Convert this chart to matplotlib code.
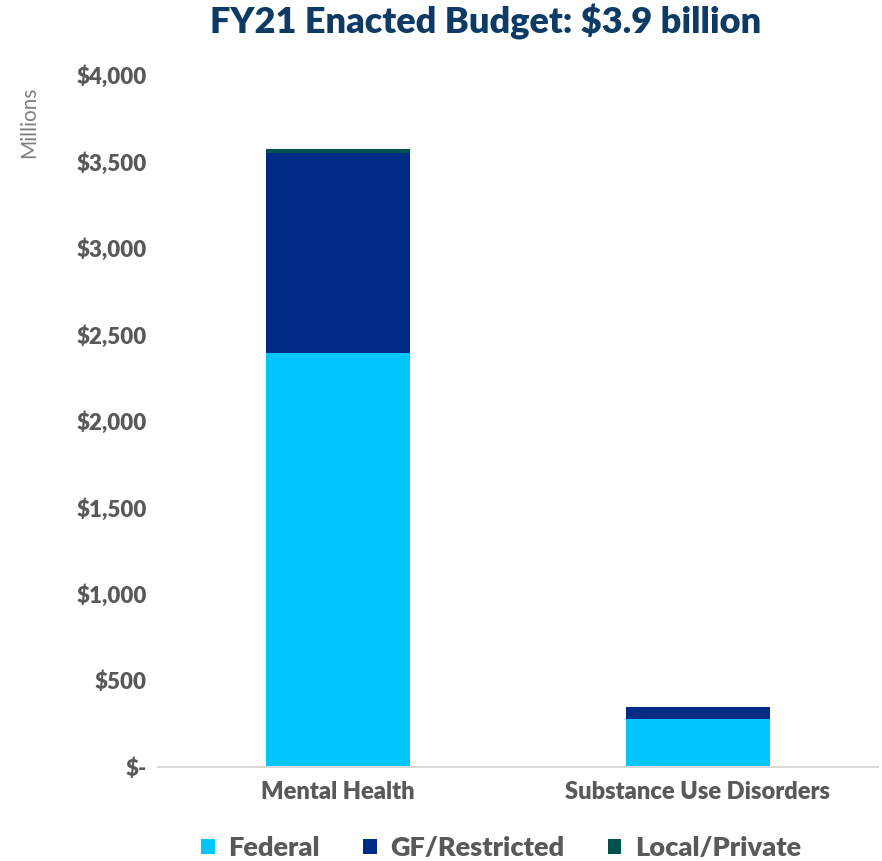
import matplotlib
matplotlib.use("Agg")
import matplotlib.pyplot as plt
from matplotlib.ticker import FixedLocator

categories = ["Mental Health", "Substance Use Disorders"]
federal = [2393, 279]
gf_restricted = [1156, 68]
local_private = [23, 0]
series_names = ["Federal", "GF/Restricted", "Local/Private"]
ytick_values = [0, 500, 1000, 1500, 2000, 2500, 3000, 3500, 4000]
ytick_labels = ["$-", "$500", "$1,000", "$1,500", "$2,000", "$2,500", "$3,000", "$3,500", "$4,000"]

colors = ["#00C5FF", "#002B84", "#00524F"]
plt.rcParams['font.family'] = ['Lato', 'DejaVu Sans']
W = 'heavy'

fig = plt.figure(figsize=(8.82, 8.61), dpi=100)
ax = fig.add_axes([0.179, 0.1092, 0.816, 0.8037])

x = [0, 1]
w = 0.4
b1 = ax.bar(x, federal, width=w, color=colors[0], label=series_names[0])
bottom2 = federal
b2 = ax.bar(x, gf_restricted, width=w, bottom=bottom2, color=colors[1], label=series_names[1])
bottom3 = [a + b for a, b in zip(federal, gf_restricted)]
b3 = ax.bar(x, local_private, width=w, bottom=bottom3, color=colors[2], label=series_names[2])

ax.set_xlim(-0.5, 1.5)
ax.set_ylim(0, 4000)
ax.yaxis.set_major_locator(FixedLocator(ytick_values))
ax.set_yticklabels(ytick_labels, fontsize=16, fontweight=W, color='#595959')
ax.set_xticks(x)
ax.set_xticklabels(categories, fontsize=17, fontweight=W, color='#595959')
ax.tick_params(axis='both', length=0, pad=8)
ax.tick_params(axis='x', pad=10)
for s in ["top", "right", "left"]:
    ax.spines[s].set_visible(False)
ax.spines["bottom"].set_color("#D9D9D9")
ax.spines["bottom"].set_linewidth(1.5)

fig.text(0.033, 0.858, "Millions", rotation=90, fontsize=15, color='#7F7F7F', ha='center', va='center')
fig.text(0.551, 0.974, "FY21 Enacted Budget: $3.9 billion", fontsize=26, fontweight=W,
         color='#0D3B66', ha='center', va='center')

leg = fig.legend(handles=[b1, b2, b3], labels=series_names, loc='center', bbox_to_anchor=(0.568, 0.015),
                 ncol=3, frameon=False, fontsize=19.5, handlelength=0.5, handleheight=0.5,
                 columnspacing=1.6, handletextpad=0.5)
for t in leg.get_texts():
    t.set_fontweight(W)
    t.set_color('#595959')

fig.savefig("out.png", dpi=100)
